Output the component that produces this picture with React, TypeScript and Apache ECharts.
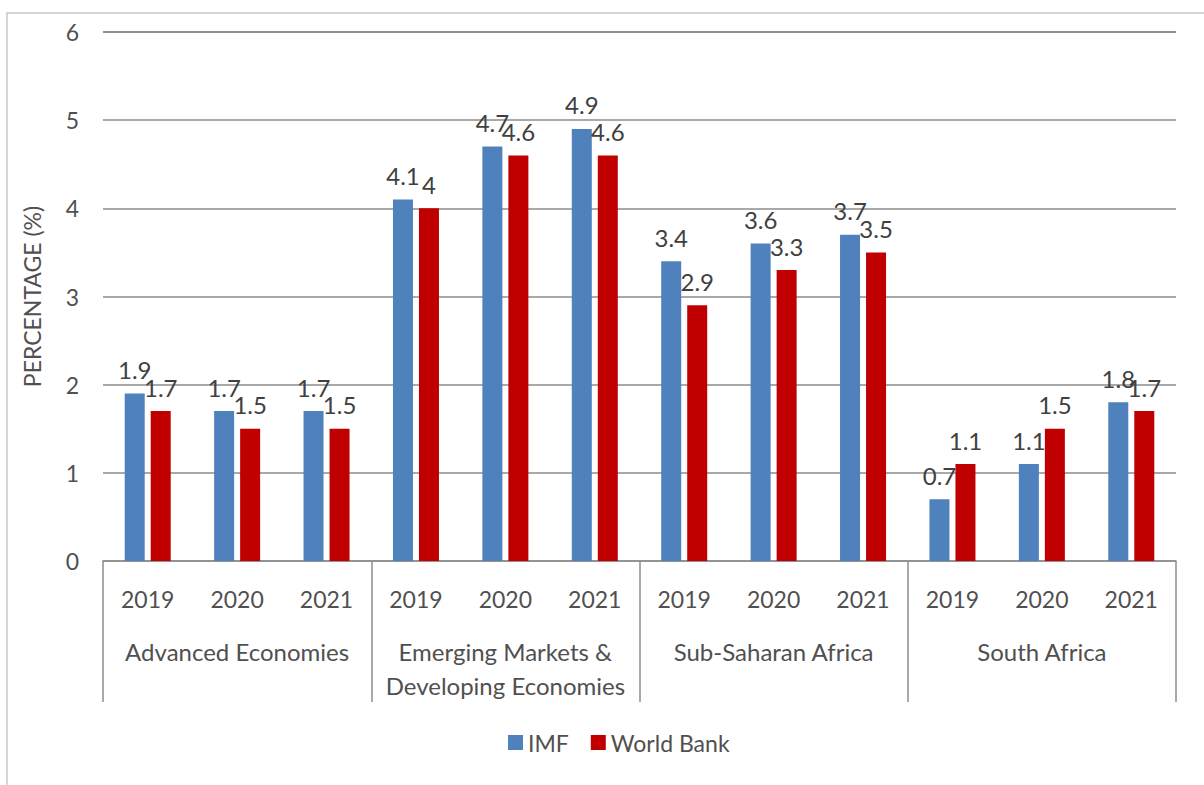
import React, { useEffect, useRef } from "react";
import * as echarts from "echarts";

const groups = ["Advanced Economies", "Emerging Markets &\nDeveloping Economies", "Sub-Saharan Africa", "South Africa"];
const years = ["2019", "2020", "2021"];
const imf = [1.9, 1.7, 1.7, 4.1, 4.7, 4.9, 3.4, 3.6, 3.7, 0.7, 1.1, 1.8];
const worldBank = [1.7, 1.5, 1.5, 4.0, 4.6, 4.6, 2.9, 3.3, 3.5, 1.1, 1.5, 1.7];
const yTicks = [0, 1, 2, 3, 4, 5, 6];

const categories: string[] = [];
groups.forEach((g, gi) => years.forEach((y) => categories.push(gi + "|" + y)));

const FONT = "Lato, 'Open Sans', sans-serif";
const TXT = "#505050";

export default function App() {
  const ref = useRef<HTMLDivElement>(null);
  useEffect(() => {
    if (!ref.current) return;
    const chart = echarts.init(ref.current, null, { renderer: "svg" });
    const labelStyle = {
      show: true,
      position: "top" as const,
      distance: 12,
      fontSize: 24,
      color: "#404040",
      fontFamily: FONT,
    };
    chart.setOption({
      animation: false,
      backgroundColor: "#ffffff",
      textStyle: { fontFamily: FONT },
      graphic: [
        {
          type: "rect",
          shape: { x: 7, y: 13, width: 1400, height: 1000 },
          style: { fill: "none", stroke: "#c8c8c8", lineWidth: 1.5 },
          silent: true,
        },
      ],
      grid: { left: 103, right: 28, top: 32, bottom: 224, containLabel: false },
      legend: {
        left: 503,
        top: 726,
        itemWidth: 15,
        itemHeight: 15,
        itemGap: 22,
        icon: "rect",
        textStyle: { fontSize: 23, color: TXT, fontFamily: FONT },
        data: ["IMF", "World Bank"],
      },
      xAxis: [
        {
          type: "category",
          data: categories,
          position: "bottom",
          axisLine: { show: true, lineStyle: { color: "#8c8c8c", width: 1.5 } },
          axisTick: { show: false },
          axisLabel: {
            interval: 0,
            margin: 26,
            fontSize: 23,
            color: TXT,
            fontFamily: FONT,
            formatter: (v: string) => v.split("|")[1],
          },
        },
        {
          type: "category",
          data: groups,
          position: "bottom",
          axisLine: { show: false },
          axisTick: { show: true, interval: 0, length: 141, lineStyle: { color: "#8c8c8c", width: 1.5 } },
          axisLabel: {
            interval: 0,
            margin: 73,
            fontSize: 24,
            lineHeight: 34,
            color: TXT,
            fontFamily: FONT,
          },
        },
      ],
      yAxis: {
        type: "value",
        min: yTicks[0],
        max: yTicks[yTicks.length - 1],
        interval: 1,
        name: "PERCENTAGE (%)",
        nameLocation: "middle",
        nameRotate: 90,
        nameGap: 60,
        nameTextStyle: { fontSize: 23, color: TXT, fontFamily: FONT },
        axisLine: { show: false },
        axisTick: { show: false },
        axisLabel: { margin: 24, fontSize: 23, color: TXT, fontFamily: FONT },
        splitLine: {
          show: true,
          lineStyle: {
            color: ["#8c8c8c", "#8c8c8c", "#8c8c8c", "#8c8c8c", "#8c8c8c", "#8c8c8c", "#6a6a6a"],
            width: 1.5,
          },
        },
      },
      series: [
        {
          name: "IMF",
          type: "bar",
          xAxisIndex: 0,
          data: imf,
          barWidth: 20,
          barGap: "30%",
          itemStyle: { color: "#4f81bd" },
          label: labelStyle,
        },
        {
          name: "World Bank",
          type: "bar",
          xAxisIndex: 0,
          data: worldBank,
          barWidth: 20,
          barGap: "30%",
          itemStyle: { color: "#c00000" },
          label: labelStyle,
        },
      ],
    });
    return () => chart.dispose();
  }, []);
  return (
    <div
      ref={ref}
      style={{ position: "fixed", left: 0, top: 0, width: 1204, height: 785, background: "#fff" }}
    />
  );
}
